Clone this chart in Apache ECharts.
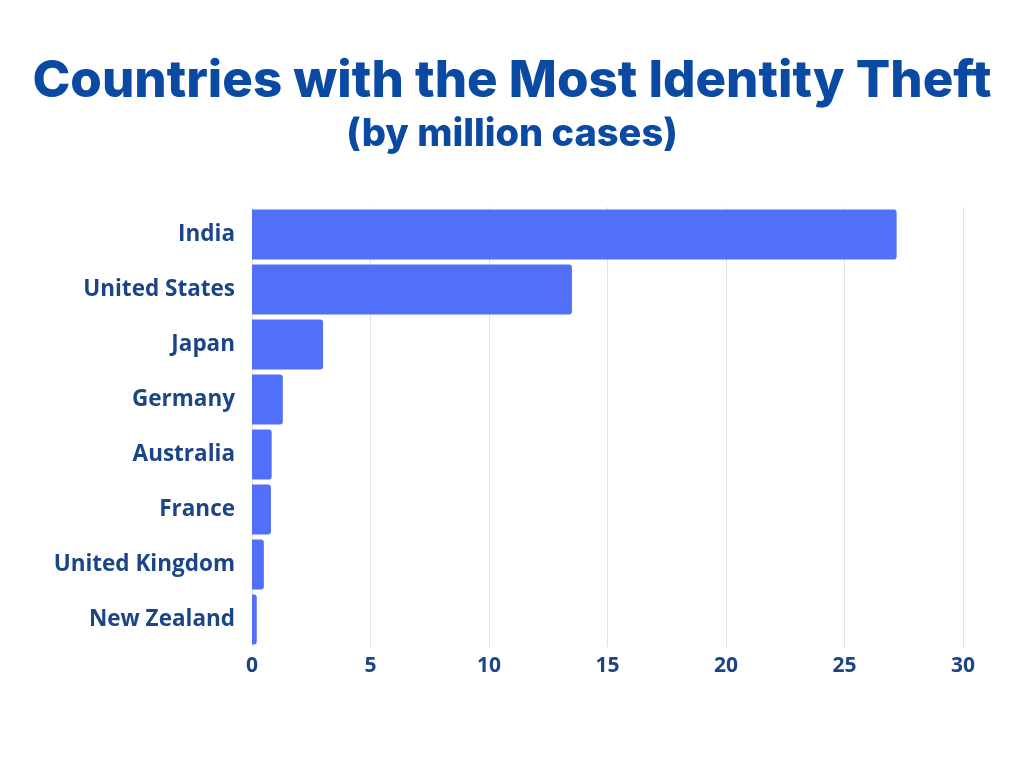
<!DOCTYPE html>
<html>
<head>
<meta charset="utf-8">
<script src="https://cdn.jsdelivr.net/npm/echarts@6/dist/echarts.min.js"></script>
<style>
  html, body { margin: 0; padding: 0; background: #fff; }
  #main { width: 1024px; height: 768px; }
</style>
</head>
<body>
<div id="main"></div>
<script>
// countries, top to bottom as in the picture
var countries = ['India', 'United States', 'Japan', 'Germany', 'Australia', 'France', 'United Kingdom', 'New Zealand'];
// identity theft cases, millions
var cases = [27.2, 13.5, 3.0, 1.3, 0.83, 0.8, 0.5, 0.2];

var chart = echarts.init(document.getElementById('main'));
var option = {
  backgroundColor: '#ffffff',
  title: [{
    text: 'Countries with the Most Identity Theft',
    left: 'center',
    top: 51,
    textStyle: { fontFamily: 'Inter', fontWeight: 800, fontSize: 51, color: '#0b4aa2', letterSpacing: -3.5 }
  }, {
    text: '(by million cases)',
    left: 'center',
    top: 111,
    textStyle: { fontFamily: 'Inter', fontWeight: 800, fontSize: 38, color: '#0b4aa2', letterSpacing: -1.5 }
  }],
  grid: { left: 252, right: 61, top: 207, bottom: 121, containLabel: false },
  xAxis: {
    type: 'value',
    min: 0, max: 30, interval: 5,
    axisLine: { show: false },
    axisTick: { show: false },
    splitLine: { lineStyle: { color: '#dde3ec', width: 1 } },
    axisLabel: { fontFamily: 'Open Sans', fontWeight: 'bold', fontSize: 21, color: '#1c4587', margin: 9 }
  },
  yAxis: {
    type: 'category',
    inverse: true,
    data: countries,
    axisLine: { show: false },
    axisTick: { show: false },
    axisLabel: { fontFamily: 'Open Sans', fontWeight: 'bold', fontSize: 22.5, color: '#1c4587', margin: 17 }
  },
  series: [{
    type: 'bar',
    data: cases,
    barCategoryGap: '9%',
    itemStyle: { color: '#526ffa', borderRadius: [0, 3, 3, 0] }
  }]
};
chart.setOption(option);
</script>
</body>
</html>
